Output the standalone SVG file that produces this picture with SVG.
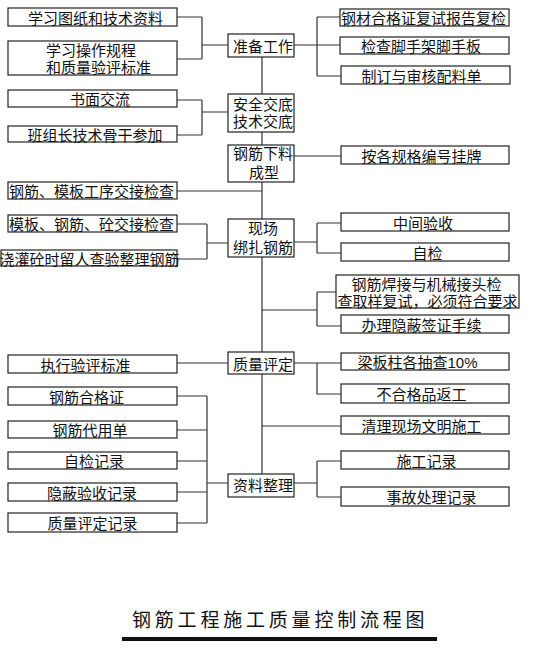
<svg xmlns="http://www.w3.org/2000/svg" width="557" height="654" viewBox="0 0 557 654">
<style>
rect.b{fill:#fff;stroke:#222;stroke-width:1.2}
text{font-family:"Liberation Sans","Noto Sans CJK SC",sans-serif;font-size:15px;fill:#111;text-anchor:middle;dominant-baseline:central}
.c path{fill:none;stroke:#333;stroke-width:1.2}
.t{font-size:19px;letter-spacing:3.8px;text-anchor:start}
</style>
<rect width="557" height="654" fill="#fff"/>
<g class="c">
<path d="M262 57V474"/>
<path d="M177 17H202M177 59H202M202 17V59M202 45H228"/>
<path d="M177 100H202M177 135H202M202 100V135M202 112H228"/>
<path d="M177 191H262"/>
<path d="M177 224H207M177 259H207M207 224V259M207 243H228"/>
<path d="M177 363H228"/>
<path d="M177 396H207M177 430H207M177 461H207M177 492H207M177 523H207M207 396V523M207 483H228"/>
<path d="M294 45H317M317 17V76M317 17H340M317 45H340M317 76H341"/>
<path d="M294 156H341"/>
<path d="M294 242H317M317 223V253M317 223H341M317 253H341"/>
<path d="M262 310H317M317 292V326M317 292H336M317 326H341"/>
<path d="M294 363H341M317 363V394H341"/>
<path d="M262 426H341"/>
<path d="M294 483H317M317 461V497M317 461H341M317 497H341"/>
</g>
<g id="L1"><rect class="b" x="8" y="8" width="169" height="18"/><text x="95.5" y="18.3">学习图纸和技术资料</text></g>
<g id="L2"><rect class="b" x="8" y="41" width="169" height="34"/><text x="91" y="50.3">学习操作规程</text><text x="98.5" y="67.3">和质量验评标准</text></g>
<g id="L3"><rect class="b" x="8" y="90" width="169" height="17"/><text x="100" y="99.8">书面交流</text></g>
<g id="L4"><rect class="b" x="8" y="126" width="169" height="16"/><text x="95" y="135.3">班组长技术骨干参加</text></g>
<g id="L5"><rect class="b" x="8" y="182" width="169" height="17"/><text x="91.5" y="191.8">钢筋、模板工序交接检查</text></g>
<g id="L6"><rect class="b" x="8" y="215" width="169" height="17"/><text x="91.5" y="224.8">模板、钢筋、砼交接检查</text></g>
<g id="L7"><rect class="b" x="1" y="250" width="176" height="16"/><text x="89.5" y="259.3">浇灌砼时留人查验整理钢筋</text></g>
<g id="L8"><rect class="b" x="8" y="355" width="169" height="18"/><text x="85.5" y="365.3">执行验评标准</text></g>
<g id="L9"><rect class="b" x="8" y="387" width="169" height="18"/><text x="86.5" y="397.3">钢筋合格证</text></g>
<g id="L10"><rect class="b" x="8" y="421" width="169" height="17"/><text x="90" y="430.8">钢筋代用单</text></g>
<g id="L11"><rect class="b" x="8" y="452" width="169" height="17"/><text x="94" y="461.8">自检记录</text></g>
<g id="L12"><rect class="b" x="8" y="483" width="169" height="18"/><text x="92" y="493.3">隐蔽验收记录</text></g>
<g id="L13"><rect class="b" x="8" y="513" width="169" height="19"/><text x="92.5" y="523.8">质量评定记录</text></g>
<g id="C1"><rect class="b" x="228" y="34" width="66" height="23"/><text x="263" y="46.8">准备工作</text></g>
<g id="C2"><rect class="b" x="228" y="94" width="66" height="38"/><text x="263" y="104.3">安全交底</text><text x="263" y="121.3">技术交底</text></g>
<g id="C3"><rect class="b" x="228" y="145" width="66" height="37"/><text x="263" y="153.8">钢筋下料</text><text x="264" y="172.8">成型</text></g>
<g id="C4"><rect class="b" x="228" y="219" width="66" height="38"/><text x="263" y="228.3">现场</text><text x="263" y="247.8">绑扎钢筋</text></g>
<g id="C5"><rect class="b" x="228" y="352" width="66" height="22"/><text x="263" y="364.8">质量评定</text></g>
<g id="C6"><rect class="b" x="228" y="474" width="66" height="23"/><text x="263" y="485.3">资料整理</text></g>
<g id="R1"><rect class="b" x="340" y="9" width="169" height="17"/><text x="423.5" y="18.8">钢材合格证复试报告复检</text></g>
<g id="R2"><rect class="b" x="340" y="37" width="169" height="17"/><text x="421" y="46.8">检查脚手架脚手板</text></g>
<g id="R3"><rect class="b" x="341" y="66" width="169" height="18"/><text x="421.5" y="76.3">制订与审核配料单</text></g>
<g id="R4"><rect class="b" x="341" y="146" width="168" height="18"/><text x="421.5" y="156.3">按各规格编号挂牌</text></g>
<g id="R5"><rect class="b" x="341" y="213" width="168" height="18"/><text x="423" y="223.3">中间验收</text></g>
<g id="R6"><rect class="b" x="341" y="243" width="168" height="18"/><text x="427.5" y="253.3">自检</text></g>
<g id="R7"><rect class="b" x="336" y="275" width="183" height="33"/><text x="426.5" y="284">钢筋焊接与机械接头检</text><text x="427.5" y="301">查取样复试，必须符合要求</text></g>
<g id="R8"><rect class="b" x="341" y="315" width="168" height="18"/><text x="421.5" y="325.3">办理隐蔽签证手续</text></g>
<g id="R9"><rect class="b" x="341" y="353" width="168" height="17"/><text x="417.5" y="362.8">梁板柱各抽查10%</text></g>
<g id="R10"><rect class="b" x="341" y="384" width="168" height="19"/><text x="421.5" y="394.8">不合格品返工</text></g>
<g id="R11"><rect class="b" x="341" y="416" width="168" height="18"/><text x="421.5" y="426.3">清理现场文明施工</text></g>
<g id="R12"><rect class="b" x="341" y="451" width="168" height="18"/><text x="426.5" y="461.3">施工记录</text></g>
<g id="R13"><rect class="b" x="341" y="487" width="168" height="19"/><text x="431.5" y="497.8">事故处理记录</text></g>
<g id="title"><text class="t" x="132" y="620">钢筋工程施工质量控制流程图</text><rect x="122" y="637" width="315" height="4" fill="#111"/></g>
</svg>
